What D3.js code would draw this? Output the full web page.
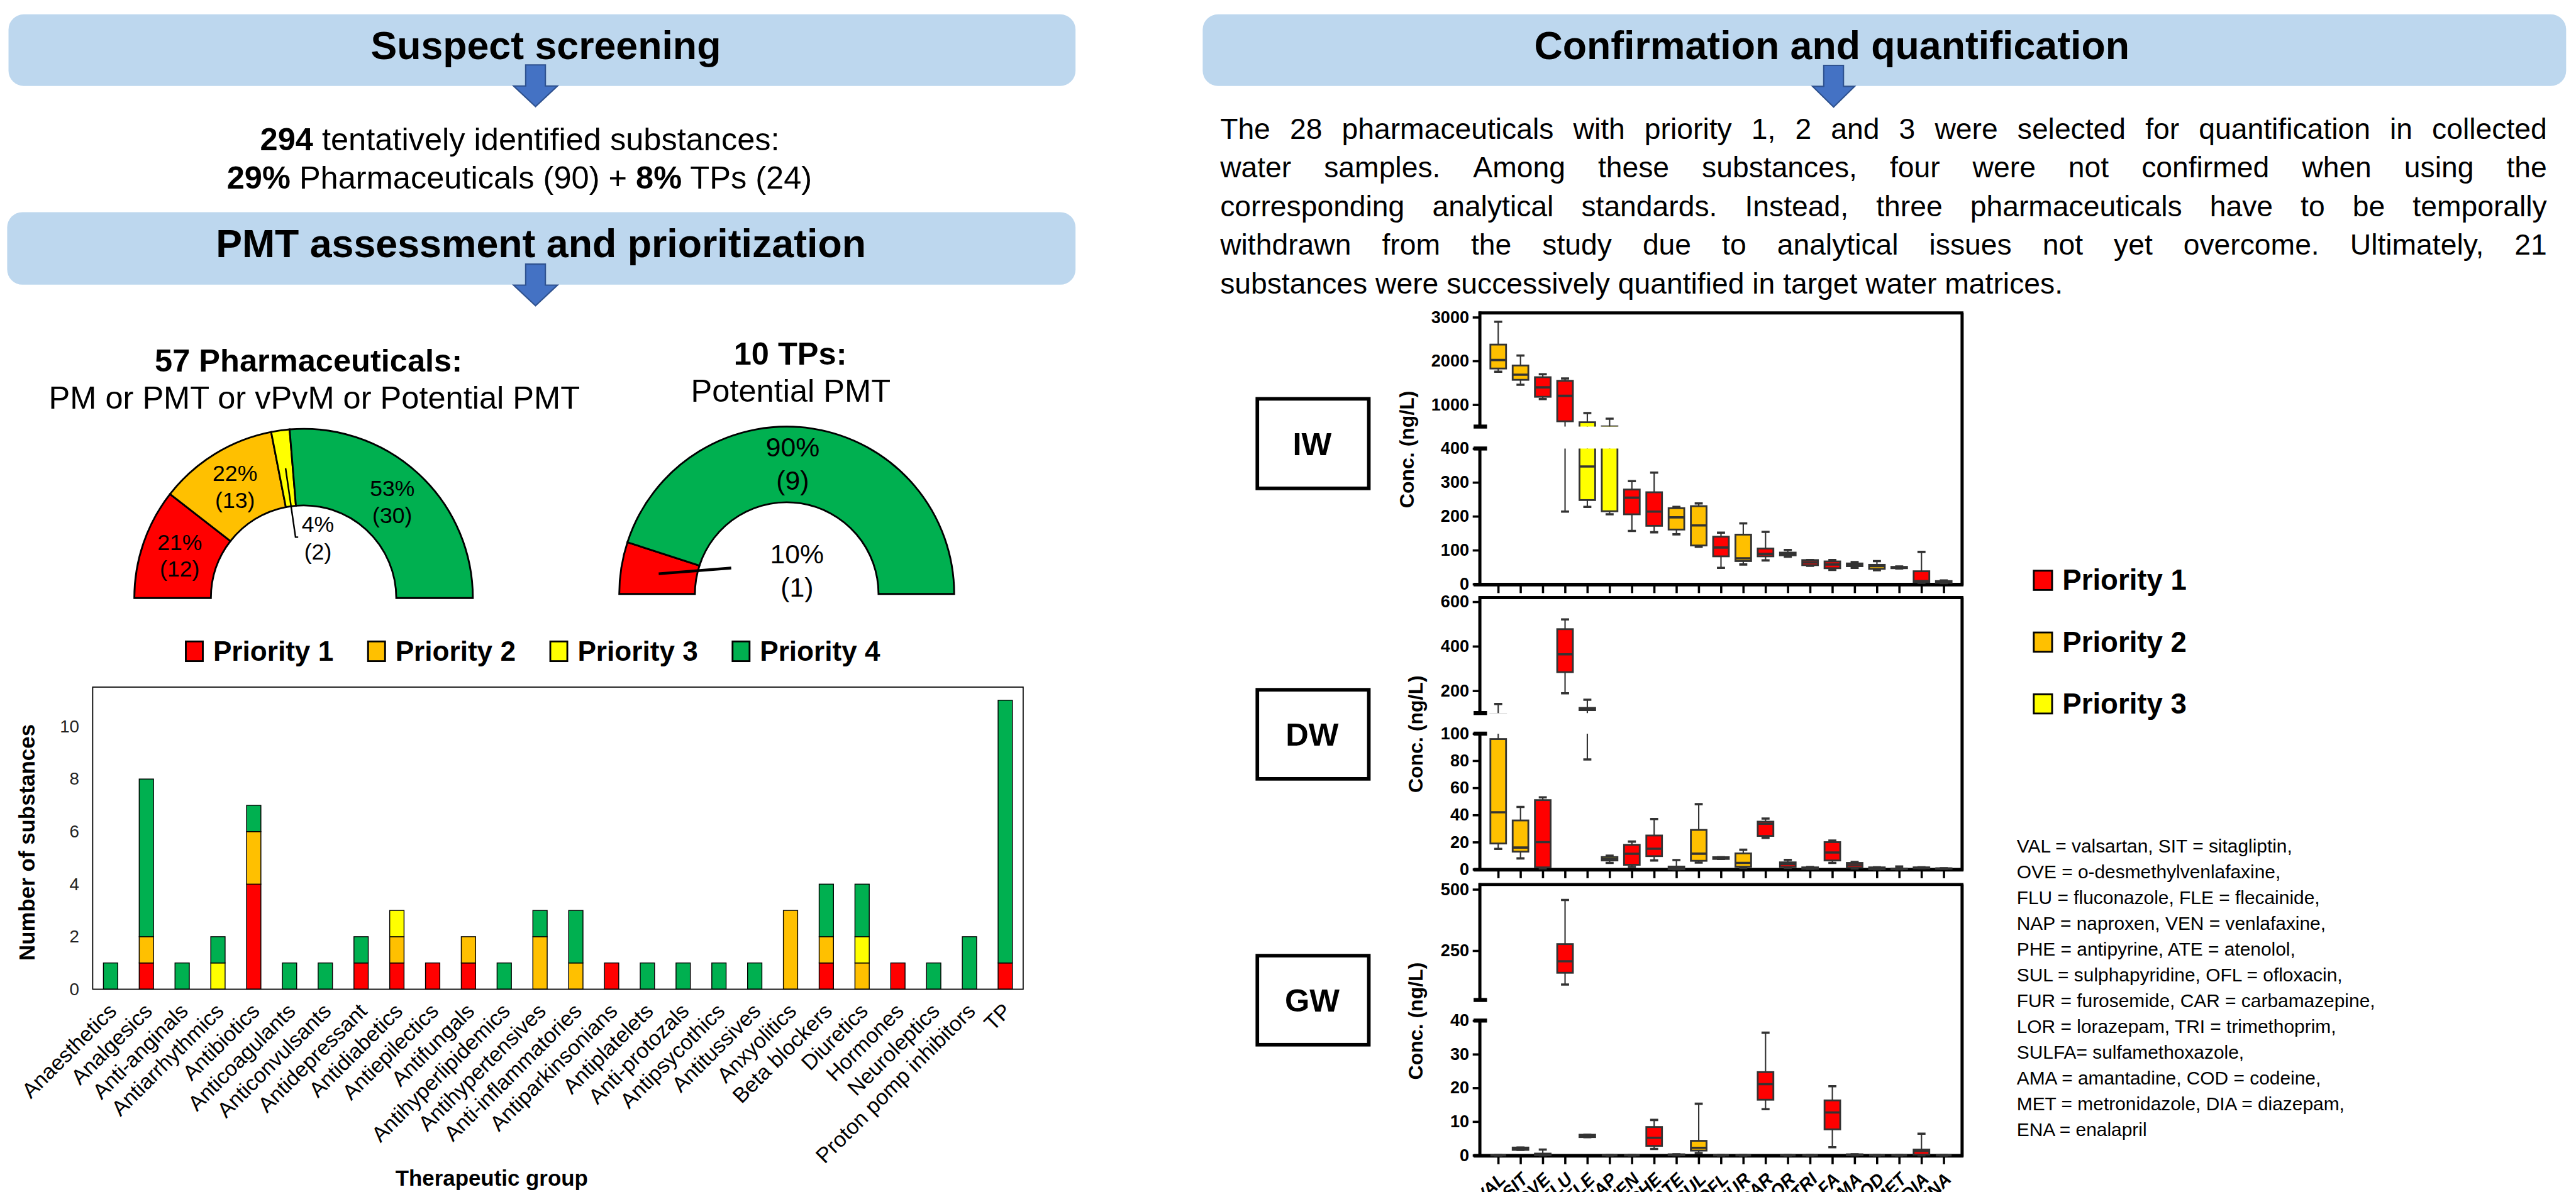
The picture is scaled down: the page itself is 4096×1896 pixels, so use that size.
<!DOCTYPE html>
<html>
<head>
<meta charset="utf-8">
<script src="https://cdnjs.cloudflare.com/ajax/libs/d3/7.8.5/d3.min.js"></script>
<style>
html, body { margin: 0; padding: 0; background: #fff; overflow: hidden; }
svg { display: block; }
text { font-family: "Liberation Sans", Arial, sans-serif; }
</style>
</head>
<body>
<svg id="chart"></svg>
<script>
// ---- data ----
const therapeuticGroups = ["Anaesthetics", "Analgesics", "Anti-anginals", "Antiarrhythmics", "Antibiotics",
  "Anticoagulants", "Anticonvulsants", "Antidepressant", "Antidiabetics", "Antiepilectics", "Antifungals",
  "Antihyperlipidemics", "Antihypertensives", "Anti-inflammatories", "Antiparkinsonians", "Antiplatelets",
  "Anti-protozals", "Antipsycothics", "Antitussives", "Anxyolitics", "Beta blockers", "Diuretics",
  "Hormones", "Neuroleptics", "Proton pomp inhibitors", "TP"];
const priority1 = [0, 1, 0, 0, 4, 0, 0, 1, 1, 1, 1, 0, 0, 0, 1, 0, 0, 0, 0, 0, 1, 0, 1, 0, 0, 1];
const priority2 = [0, 1, 0, 0, 2, 0, 0, 0, 1, 0, 1, 0, 2, 1, 0, 0, 0, 0, 0, 3, 1, 1, 0, 0, 0, 0];
const priority3 = [0, 0, 0, 1, 0, 0, 0, 0, 1, 0, 0, 0, 0, 0, 0, 0, 0, 0, 0, 0, 0, 1, 0, 0, 0, 0];
const priority4 = [1, 6, 1, 1, 1, 1, 1, 1, 0, 0, 0, 1, 1, 2, 0, 1, 1, 1, 1, 0, 2, 2, 0, 1, 2, 10];
const barTicks = [0, 2, 4, 6, 8, 10];

const priorityLabels = ["Priority 1", "Priority 2", "Priority 3", "Priority 4"];
const pharmaCounts = [12, 13, 2, 30];
const pharmaPct = ["21%", "22%", "4%", "53%"];
const tpCounts = [1, 0, 0, 9];
const tpPct = ["10%", "", "", "90%"];

const compounds = ["VAL", "SIT", "OVE", "FLU", "FLE", "NAP", "VEN", "PHE", "ATE", "SUL", "OFL",
  "FUR", "CAR", "LOR", "TRI", "SULFA", "AMA", "COD", "MET", "DIA", "ENA"];
const compoundPriority = [2, 2, 1, 1, 3, 3, 1, 1, 2, 2, 1, 2, 1, 1, 1, 1, 1, 2, 1, 1, 1];

// [min, q1, median, q3, max] in ng/L
const iwStats = [
  [1754, 1828, 2022, 2375, 2897], [1457, 1569, 1685, 1897, 2125], [1129, 1181, 1397, 1629, 1698],
  [214, 621, 1203, 1547, 1599], [228, 248, 347, 599, 810], [206, 215, 450, 505, 681],
  [157, 206, 255, 279, 304], [153, 172, 214, 271, 329], [147, 161, 197, 224, 228],
  [110, 114, 173, 230, 238], [48, 82, 108, 140, 152], [58, 68, 76, 146, 179],
  [70, 82, 89, 105, 154], [81, 85, 89, 93, 101], [54, 56, 64, 71, 71],
  [42, 47, 58, 67, 71], [48, 53, 57, 61, 65], [41, 45, 53, 57, 68],
  [46, 47, 49, 51, 52], [4, 6, 9, 38, 95], [3, 4, 6, 9, 11]];
const dwStats = [
  [15, 19, 42, 96, 141], [8, 13, 16, 36, 46], [0.7, 1.4, 20, 51, 53],
  [189, 284, 364, 477, 521], [81, 113, 118, 123, 160], [4.7, 6.5, 7.5, 9, 10],
  [1.7, 3.3, 11.4, 18, 20.4], [6.5, 9.7, 15.1, 24.9, 37], [0, 0, 1, 2, 6.8],
  [4.9, 6.25, 11.5, 29, 48], [7.6, 7.6, 8.2, 8.9, 8.9], [1, 1.9, 4.7, 11.7, 14.4],
  [23.2, 24.6, 33.6, 35.1, 37.4], [1, 1.7, 3.75, 5.1, 6.9], [0.3, 0.3, 0.8, 1.4, 1.7],
  [4.7, 6.5, 12.4, 20, 21.1], [0.6, 1.25, 3.1, 4.7, 5.4], [0, 0, 0.7, 1.4, 1.4],
  [0, 0, 0.2, 0.4, 2], [0.7, 0.7, 1, 1.4, 1.4], [0.3, 0.3, 0.5, 0.7, 0.7]];
const gwStats = [
  [0, 0, 0, 0, 0], [1.6, 1.6, 1.95, 2.3, 2.3], [0, 0, 0.2, 0.5, 1.7],
  [112, 160, 207, 277, 457], [5.4, 5.4, 5.75, 6.1, 6.1], [0, 0, 0, 0, 0],
  [0, 0, 0, 0, 0], [1.9, 2.8, 5.2, 8.4, 10.5], [0, 0, 0.1, 0.3, 0.3],
  [0.65, 1.4, 2.2, 4.3, 15.3], [0, 0, 0, 0, 0], [0, 0, 0, 0, 0],
  [13.7, 16.5, 21.1, 24.7, 36.4], [0, 0, 0, 0, 0], [0, 0, 0, 0, 0],
  [2.4, 7.7, 12.7, 16.3, 20.5], [0, 0, 0.1, 0.3, 0.3], [0, 0, 0, 0, 0],
  [0, 0, 0, 0, 0], [0, 0.2, 1.3, 1.7, 6.4], [0, 0, 0, 0, 0]];
const iwUpperTicks = [1000, 2000, 3000], iwLowerTicks = [0, 100, 200, 300, 400];
const dwUpperTicks = [200, 400, 600], dwLowerTicks = [0, 20, 40, 60, 80, 100];
const gwUpperTicks = [250, 500], gwLowerTicks = [0, 10, 20, 30, 40];

const paragraph = [
  "The 28 pharmaceuticals with priority 1, 2 and 3 were selected for quantification in collected",
  "water samples. Among these substances, four were not confirmed when using the",
  "corresponding analytical standards. Instead, three pharmaceuticals have to be temporally",
  "withdrawn from the study due to analytical issues not yet overcome. Ultimately, 21",
  "substances were successively quantified in target water matrices."];
const abbreviations = [
  "VAL = valsartan, SIT = sitagliptin,", "OVE = o-desmethylvenlafaxine,",
  "FLU = fluconazole, FLE = flecainide,", "NAP = naproxen, VEN = venlafaxine,",
  "PHE = antipyrine, ATE = atenolol,", "SUL = sulphapyridine, OFL = ofloxacin,",
  "FUR = furosemide, CAR = carbamazepine,", "LOR = lorazepam, TRI = trimethoprim,",
  "SULFA= sulfamethoxazole,", "AMA = amantadine, COD = codeine,",
  "MET = metronidazole, DIA = diazepam,", "ENA = enalapril"];

const colors = ["#FF0000", "#FFC000", "#FFFF00", "#00B050"];

// ---- canvas (drawn in reference units, scaled by the viewBox) ----
const W = 5753, H = 2663;
const svg = d3.select("#chart")
  .attr("width", 4096).attr("height", 1896)
  .attr("viewBox", `0 0 ${W} ${H}`);
const defs = svg.append("defs");

// header boxes and arrows
function header(x, y, w, h, title, cx) {
  svg.append("rect").attr("x", x).attr("y", y).attr("width", w).attr("height", h)
    .attr("rx", 34).attr("fill", "#BDD7EE");
  svg.append("text").attr("x", cx).attr("y", y + 100).attr("text-anchor", "middle")
    .attr("font-size", 88).attr("font-weight", "bold").text(title);
}
function arrow(cx, y0, shaft, head) {
  const pts = [[cx - shaft / 2, y0], [cx + shaft / 2, y0], [cx + shaft / 2, y0 + 47],
    [cx + head / 2, y0 + 47], [cx, y0 + 93], [cx - head / 2, y0 + 47], [cx - shaft / 2, y0 + 47]];
  svg.append("polygon").attr("points", pts.map(p => p.join(",")).join(" "))
    .attr("fill", "#4472C4").attr("stroke", "#2F528F").attr("stroke-width", 3);
}
header(19, 32, 2383, 160, "Suspect screening", 1219);
header(16, 474, 2386, 162, "PMT assessment and prioritization", 1208);
header(2686, 32, 3045, 160, "Confirmation and quantification", 4091);
arrow(1196, 145, 44, 98);
arrow(1196, 590, 44, 98);
arrow(4095, 146, 44, 94);

const intro1 = svg.append("text").attr("x", 1161).attr("y", 335).attr("text-anchor", "middle").attr("font-size", 71);
intro1.append("tspan").attr("font-weight", "bold").text("294");
intro1.append("tspan").text(" tentatively identified substances:");
const intro2 = svg.append("text").attr("x", 1160).attr("y", 422).attr("text-anchor", "middle").attr("font-size", 71);
intro2.append("tspan").attr("font-weight", "bold").text("29%");
intro2.append("tspan").text(" Pharmaceuticals (90) + ");
intro2.append("tspan").attr("font-weight", "bold").text("8%");
intro2.append("tspan").text(" TPs (24)");

// ---- half donuts ----
function halfDonut(cx, cy, r0, r1, counts) {
  const g = svg.append("g").attr("transform", `translate(${cx},${cy})`);
  const pie = d3.pie().sort(null).startAngle(-Math.PI / 2).endAngle(Math.PI / 2);
  const arcs = pie(counts).map((d, i) => Object.assign(d, { i }));
  const arc = d3.arc().innerRadius(r0).outerRadius(r1);
  g.selectAll("path").data(arcs.filter(d => d.value > 0)).join("path")
    .attr("d", arc).attr("fill", d => colors[d.i]).attr("stroke", "#000").attr("stroke-width", 4);
  return { g, arcs, arc };
}
const left = halfDonut(678, 1336, 207, 378, pharmaCounts);
const right = halfDonut(1757, 1327, 205, 374, tpCounts);
const midArc = (r0, r1) => d3.arc().innerRadius((r0 + r1) / 2).outerRadius((r0 + r1) / 2);

function pairLabel(g, x, y, top, bottom, fs, gap) {
  const t = g.append("text").attr("text-anchor", "middle").attr("font-size", fs);
  t.append("tspan").attr("x", x).attr("y", y - gap / 2).attr("dy", "0.35em").text(top);
  t.append("tspan").attr("x", x).attr("y", y + gap / 2).attr("dy", "0.35em").text(bottom);
}
{
  const m = midArc(207, 378);
  left.arcs.forEach(d => {
    const [x, y] = m.centroid(d);
    if (d.i === 2) {
      left.g.append("polyline").attr("points", `${x},${y} ${-18},${-136} ${-12},${-136}`)
        .attr("fill", "none").attr("stroke", "#000").attr("stroke-width", 3.5);
      pairLabel(left.g, 32, -134, pharmaPct[d.i], `(${d.value})`, 50, 62);
    } else {
      pairLabel(left.g, x, y, pharmaPct[d.i], `(${d.value})`, 50, 60);
    }
  });
  const m2 = midArc(205, 374);
  right.arcs.forEach(d => {
    if (d.value === 0) return;
    const [x, y] = m2.centroid(d);
    if (d.i === 0) {
      right.g.append("line").attr("x1", x).attr("y1", y).attr("x2", -124).attr("y2", -58)
        .attr("stroke", "#000").attr("stroke-width", 6);
      pairLabel(right.g, 23, -52, tpPct[d.i], `(${d.value})`, 60, 75);
    } else {
      pairLabel(right.g, x - 32, y - 5, tpPct[d.i], `(${d.value})`, 60, 75);
    }
  });
}
svg.append("text").attr("x", 689).attr("y", 830).attr("text-anchor", "middle")
  .attr("font-size", 71).attr("font-weight", "bold").text("57 Pharmaceuticals:");
svg.append("text").attr("x", 702).attr("y", 913).attr("text-anchor", "middle")
  .attr("font-size", 71).text("PM or PMT or vPvM or Potential PMT");
svg.append("text").attr("x", 1765).attr("y", 814).attr("text-anchor", "middle")
  .attr("font-size", 71).attr("font-weight", "bold").text("10 TPs:");
svg.append("text").attr("x", 1766).attr("y", 898).attr("text-anchor", "middle")
  .attr("font-size", 71).text("Potential PMT");

// legend under donuts
const leg1 = svg.append("g").selectAll("g").data(priorityLabels).join("g")
  .attr("transform", (d, i) => `translate(${415 + i * 407},1433)`);
leg1.append("rect").attr("width", 38).attr("height", 44)
  .attr("fill", (d, i) => colors[i]).attr("stroke", "#000").attr("stroke-width", 4);
leg1.append("text").attr("x", 61).attr("y", 43).attr("font-size", 62).attr("font-weight", "bold").text(d => d);

// ---- stacked bar chart ----
const barTable = therapeuticGroups.map((g, i) => ({
  group: g, p1: priority1[i], p2: priority2[i], p3: priority3[i], p4: priority4[i]
}));
const keys = ["p1", "p2", "p3", "p4"];
const stacked = d3.stack().keys(keys)(barTable);
const bx = d3.scaleBand().domain(therapeuticGroups).range([207, 2285]).paddingInner(0.6).paddingOuter(0.3);
const by = d3.scaleLinear().domain([0, 11.5]).range([2210, 1535]);

svg.append("g").selectAll("g").data(stacked).join("g")
  .attr("fill", (d, i) => colors[i])
  .selectAll("rect").data(d => d.filter(s => s[1] > s[0])).join("rect")
  .attr("x", d => bx(d.data.group)).attr("width", bx.bandwidth())
  .attr("y", d => by(d[1])).attr("height", d => by(d[0]) - by(d[1]))
  .attr("stroke", "#000").attr("stroke-width", 2);

svg.append("rect").attr("x", 207).attr("y", 1535).attr("width", 2078).attr("height", 675)
  .attr("fill", "none").attr("stroke", "#000").attr("stroke-width", 2.5);

const barAxis = svg.append("g").attr("transform", "translate(207,0)")
  .call(d3.axisLeft(by).tickValues(barTicks).tickSize(0).tickPadding(30));
barAxis.select(".domain").remove();
barAxis.attr("font-size", 39).attr("font-family", "Liberation Sans, Arial, sans-serif");
barAxis.selectAll("text").attr("fill", "#222");

svg.append("g").selectAll("text").data(therapeuticGroups).join("text")
  .attr("transform", d => `translate(${bx(d) + bx.bandwidth() / 2 + 16},2262) rotate(-45)`)
  .attr("text-anchor", "end").attr("font-size", 48).text(d => d);
svg.append("text").attr("transform", "translate(77,1882) rotate(-90)").attr("text-anchor", "middle")
  .attr("font-size", 49).attr("font-weight", "bold").text("Number of substances");
svg.append("text").attr("x", 1098).attr("y", 2649).attr("text-anchor", "middle")
  .attr("font-size", 49).attr("font-weight", "bold").text("Therapeutic group");

// ---- right paragraph (justified) ----
paragraph.forEach((line, i) => {
  const words = line.split(" ");
  const y = 310 + i * 86.5;
  const g = svg.append("g");
  const nodes = words.map(w => g.append("text").attr("y", y).attr("font-size", 65).text(w));
  const widths = nodes.map(n => n.node().getComputedTextLength());
  const total = d3.sum(widths);
  const gap = i < paragraph.length - 1 ? (2963 - total) / (words.length - 1) : 65 * 0.278;
  let x = 2725;
  nodes.forEach((n, j) => { n.attr("x", x); x += widths[j] + gap; });
});

// ---- box plots with broken axes ----
const bxPos = d3.scalePoint().domain(compounds).range([3346, 4341]);
const panels = [
  { id: "iw", label: "IW", stats: iwStats, top: 699, bottom: 1305, breakY: 953, lowerTop: 1002,
    upper: [500, 3100], lower: [0, 400], upTicks: iwUpperTicks, lowTicks: iwLowerTicks,
    box: [2808, 891, 249, 200], titleX: 3158, titleY: 1004 },
  { id: "dw", label: "DW", stats: dwStats, top: 1335, bottom: 1942, breakY: 1593, lowerTop: 1639,
    upper: [100, 619], lower: [0, 100], upTicks: dwUpperTicks, lowTicks: dwLowerTicks,
    box: [2808, 1541, 249, 199], titleX: 3177, titleY: 1640 },
  { id: "gw", label: "GW", stats: gwStats, top: 1976, bottom: 2581, breakY: 2234, lowerTop: 2280,
    upper: [49, 520], lower: [0, 40], upTicks: gwUpperTicks, lowTicks: gwLowerTicks,
    box: [2808, 2135, 249, 199], titleX: 3177, titleY: 2281 }
];
const L = 3305, R = 4382, bw = 35;

panels.forEach(p => {
  const g = svg.append("g");
  const yU = d3.scaleLinear().domain(p.upper).range([p.breakY, p.top]);
  const yL = d3.scaleLinear().domain(p.lower).range([p.bottom, p.lowerTop]);

  // frame and broken left axis
  const line = (x1, y1, x2, y2, w) => g.append("line").attr("x1", x1).attr("y1", y1)
    .attr("x2", x2).attr("y2", y2).attr("stroke", "#000").attr("stroke-width", w);
  line(L - 3, p.top, R + 3, p.top, 7);
  line(R, p.top, R, p.bottom + 3, 7);
  line(L - 14, p.bottom + 1, R + 3, p.bottom + 1, 8);
  line(L, p.top - 3, L, p.breakY, 7);
  line(L, p.lowerTop, L, p.bottom, 7);
  line(L - 14, p.breakY, L + 16, p.breakY, 9);
  line(L - 14, p.lowerTop, L + 16, p.lowerTop, 9);

  [[yU, p.upTicks], [yL, p.lowTicks]].forEach(([y, ticks]) => {
    const ax = g.append("g").attr("transform", `translate(${L},0)`)
      .call(d3.axisLeft(y).tickValues(ticks).tickFormat(d3.format("d")).tickSize(16).tickPadding(8));
    ax.select(".domain").remove();
    ax.attr("font-size", 38).attr("font-weight", "bold").attr("font-family", "Liberation Sans, Arial, sans-serif");
    ax.selectAll("line").attr("stroke-width", 5);
    ax.selectAll("text").attr("fill", "#000");
  });

  const xa = g.append("g").attr("transform", `translate(0,${p.bottom + 4})`)
    .call(d3.axisBottom(bxPos).tickSize(16).tickFormat(""));
  xa.select(".domain").remove();
  xa.selectAll("line").attr("stroke-width", 5);

  // clip regions for the two axis segments
  defs.append("clipPath").attr("id", p.id + "-up").append("rect")
    .attr("x", L).attr("y", p.top + 3).attr("width", R - L).attr("height", p.breakY - p.top - 3);
  defs.append("clipPath").attr("id", p.id + "-low").append("rect")
    .attr("x", L).attr("y", p.lowerTop).attr("width", R - L).attr("height", p.bottom - p.lowerTop + 3);

  [[yU, "-up"], [yL, "-low"]].forEach(([y, c]) => {
    const seg = g.append("g").attr("clip-path", `url(#${p.id}${c})`);
    const items = seg.selectAll("g").data(p.stats).join("g")
      .attr("transform", (d, i) => `translate(${bxPos(compounds[i])},0)`);
    items.append("line").attr("y1", d => y(d[0])).attr("y2", d => y(d[4]))
      .attr("stroke", "#333").attr("stroke-width", 3);
    items.append("line").attr("x1", -9).attr("x2", 9).attr("y1", d => y(d[0])).attr("y2", d => y(d[0]))
      .attr("stroke", "#333").attr("stroke-width", 5);
    items.append("line").attr("x1", -9).attr("x2", 9).attr("y1", d => y(d[4])).attr("y2", d => y(d[4]))
      .attr("stroke", "#333").attr("stroke-width", 5);
    items.append("rect").attr("x", -bw / 2).attr("width", bw)
      .attr("y", d => y(d[3])).attr("height", d => y(d[1]) - y(d[3]))
      .attr("fill", (d, i) => colors[compoundPriority[i] - 1])
      .attr("stroke", "#333").attr("stroke-width", 4);
    items.append("line").attr("x1", -bw / 2).attr("x2", bw / 2)
      .attr("y1", d => y(d[2])).attr("y2", d => y(d[2]))
      .attr("stroke", "#333").attr("stroke-width", 5);
  });

  // matrix label box and axis title
  svg.append("rect").attr("x", p.box[0]).attr("y", p.box[1]).attr("width", p.box[2]).attr("height", p.box[3])
    .attr("fill", "#fff").attr("stroke", "#000").attr("stroke-width", 8);
  svg.append("text").attr("x", p.box[0] + p.box[2] / 2 - 2).attr("y", p.box[1] + p.box[3] / 2)
    .attr("dy", "0.36em").attr("text-anchor", "middle").attr("font-size", 71).attr("font-weight", "bold")
    .text(p.label);
  svg.append("text").attr("transform", `translate(${p.titleX},${p.titleY}) rotate(-90)`)
    .attr("text-anchor", "middle").attr("font-size", 45).attr("font-weight", "bold").text("Conc. (ng/L)");
});

// compound labels under the GW panel (cut by the lower edge, as in the original)
svg.append("g").selectAll("text").data(compounds).join("text")
  .attr("transform", d => `translate(${bxPos(d) + 19},2637) rotate(-45)`)
  .attr("text-anchor", "end").attr("font-size", 40).attr("font-weight", "bold").attr("font-style", "italic")
  .text(d => d);

// legend on the right
const leg2 = svg.append("g").selectAll("g").data(priorityLabels.slice(0, 3)).join("g")
  .attr("transform", (d, i) => `translate(4542,${1275 + i * 138})`);
leg2.append("rect").attr("width", 41).attr("height", 43)
  .attr("fill", (d, i) => colors[i]).attr("stroke", "#000").attr("stroke-width", 4);
leg2.append("text").attr("x", 64).attr("y", 43).attr("font-size", 64).attr("font-weight", "bold").text(d => d);

// abbreviations
svg.append("g").selectAll("text").data(abbreviations).join("text")
  .attr("x", 4504).attr("y", (d, i) => 1905 + i * 57.5).attr("font-size", 42).text(d => d);
</script>
</body>
</html>
